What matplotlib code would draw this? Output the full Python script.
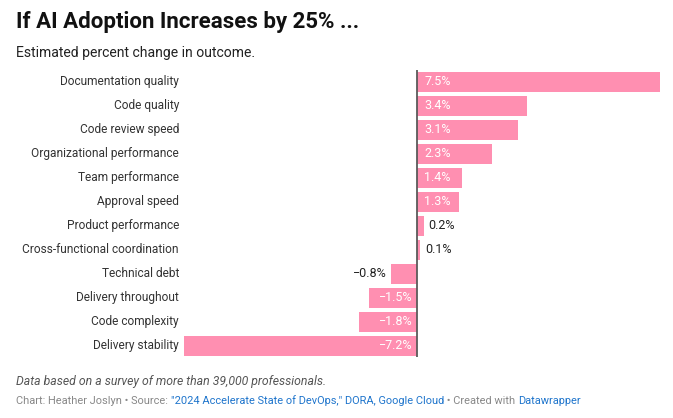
import matplotlib
matplotlib.use('Agg')
import matplotlib.pyplot as plt
import numpy as np

plt.rcParams['font.family'] = ['Roboto', 'DejaVu Sans']

# data
categories = ['Documentation quality', 'Code quality', 'Code review speed',
              'Organizational performance', 'Team performance', 'Approval speed',
              'Product performance', 'Cross-functional coordination',
              'Technical debt', 'Delivery throughout', 'Code complexity',
              'Delivery stability']
values = [7.5, 3.4, 3.1, 2.3, 1.4, 1.3, 0.2, 0.1, -0.8, -1.5, -1.8, -7.2]

pink = '#ff8fb1'
W, H = 673, 418
fig = plt.figure(figsize=(W / 100, H / 100), dpi=100)

# axes box in pixels: x 184..660, y 70..357
ax = fig.add_axes([184 / W, 1 - 357 / H, (660 - 184) / W, (357 - 70) / H])
y = np.arange(len(categories))
ax.barh(y, values, height=0.83, color=pink, zorder=1)
ax.set_xlim(min(values), max(values))
ax.set_ylim(len(categories) - 0.54, -0.5)
ax.axvline(0, color='#5a5a5a', lw=1.3, zorder=3)
ax.axis('off')

for i, (cat, v) in enumerate(zip(categories, values)):
    ax.annotate(cat, xy=(0, i), xycoords=('axes fraction', 'data'),
                xytext=(-5, 0), textcoords='offset pixels',
                ha='right', va='center', fontsize=8.6, color='#333333')
    lab = f'{v:.1f}%'.replace('-', '\u2212')
    if abs(v) >= 1.0:
        if v > 0:
            ax.annotate(lab, xy=(0, i), xytext=(7, 0), textcoords='offset pixels',
                        ha='left', va='center', fontsize=9, color='white')
        else:
            ax.annotate(lab, xy=(0, i), xytext=(-5, 0), textcoords='offset pixels',
                        ha='right', va='center', fontsize=9, color='white')
    else:
        if v > 0:
            ax.annotate(lab, xy=(v, i), xytext=(5, 0), textcoords='offset pixels',
                        ha='left', va='center', fontsize=9, color='#222222')
        else:
            ax.annotate(lab, xy=(v, i), xytext=(-5, 0), textcoords='offset pixels',
                        ha='right', va='center', fontsize=9, color='#222222')

fig.text(16 / W, 1 - 22 / H, 'If AI Adoption Increases by 25% ...', fontsize=16,
         fontweight='bold', va='center', ha='left', color='#111111')
fig.text(16 / W, 1 - 53 / H, 'Estimated percent change in outcome.', fontsize=10.1,
         va='center', ha='left', color='#222222')
fig.text(16 / W, 1 - 382 / H, 'Data based on a survey of more than 39,000 professionals.',
         fontsize=8.8, style='italic', va='center', ha='left', color='#555555')

gray = '#888888'
blue = '#1f75cc'
pieces = [('Chart: Heather Joslyn \u2022 Source: ', gray),
          ('"2024 Accelerate State of DevOps," DORA, Google Cloud', blue),
          (' \u2022 Created with ', gray),
          ('Datawrapper', blue)]
prev = fig.text(16 / W, 1 - 401 / H, pieces[0][0], fontsize=7.9, va='center',
                ha='left', color=pieces[0][1])
for txt, col in pieces[1:]:
    prev = ax.annotate(txt, xy=(1, 0), xycoords=prev, ha='left', va='bottom',
                       fontsize=7.9, color=col, annotation_clip=False)

fig.savefig('out.png', dpi=100, facecolor='white')
